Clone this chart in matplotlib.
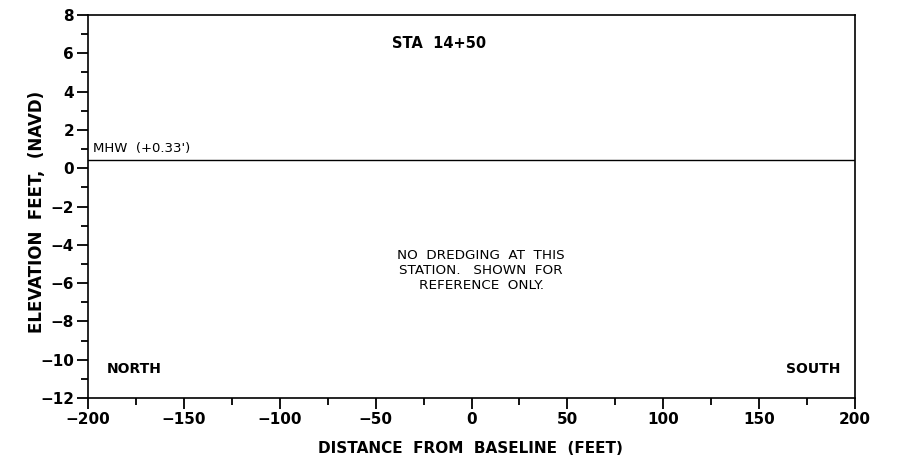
import matplotlib
matplotlib.use('Agg')
import matplotlib.pyplot as plt
from matplotlib.ticker import MultipleLocator

# chart data
x_limits = [-200, 200]
y_limits = [-12, 8]
x_major = 50
x_minor = 25
y_major = 2
y_minor = 1
mhw_level = 0.45
mhw_label = "MHW  (+0.33')"
station = "STA  14+50"
note = "NO  DREDGING  AT  THIS\nSTATION.   SHOWN  FOR\nREFERENCE  ONLY."
side_labels = ["NORTH", "SOUTH"]

plt.rcParams['font.family'] = 'DejaVu Sans'

fig = plt.figure(figsize=(9.02, 4.62), dpi=100)
ax = fig.add_axes([0.0976, 0.1385, 0.8503, 0.829])

ax.axhline(mhw_level, color='black', lw=1.0)
ax.text(-197.5, mhw_level + 0.25, mhw_label, fontsize=9.5, va='bottom', ha='left')

ax.text(-17, 6.5, station, fontsize=10.5, fontweight='bold', ha='center', va='center')
ax.text(5, -5.35, note, fontsize=9.7, ha='center', va='center', linespacing=1.2)
ax.text(-190, -10.5, side_labels[0], fontsize=10, fontweight='bold', ha='left', va='center')
ax.text(192.5, -10.5, side_labels[1], fontsize=10, fontweight='bold', ha='right', va='center')

ax.set_xlim(x_limits)
ax.set_ylim(y_limits)
ax.xaxis.set_major_locator(MultipleLocator(x_major))
ax.xaxis.set_minor_locator(MultipleLocator(x_minor))
ax.yaxis.set_major_locator(MultipleLocator(y_major))
ax.yaxis.set_minor_locator(MultipleLocator(y_minor))

ax.tick_params(which='major', direction='out', length=8, width=1.3, pad=2, labelsize=11)
ax.tick_params(which='minor', direction='out', length=5, width=1.3)
for lab in ax.get_xticklabels() + ax.get_yticklabels():
    lab.set_fontweight('bold')

for s in ax.spines.values():
    s.set_linewidth(1.2)

ax.set_xlabel('DISTANCE  FROM  BASELINE  (FEET)', fontsize=11, fontweight='bold')
ax.xaxis.set_label_coords(0.498, -0.112)
ax.set_ylabel('ELEVATION  FEET,  (NAVD)', fontsize=12, fontweight='bold')
ax.yaxis.set_label_coords(-0.055, 0.486)

fig.savefig('out.png', dpi=100)
